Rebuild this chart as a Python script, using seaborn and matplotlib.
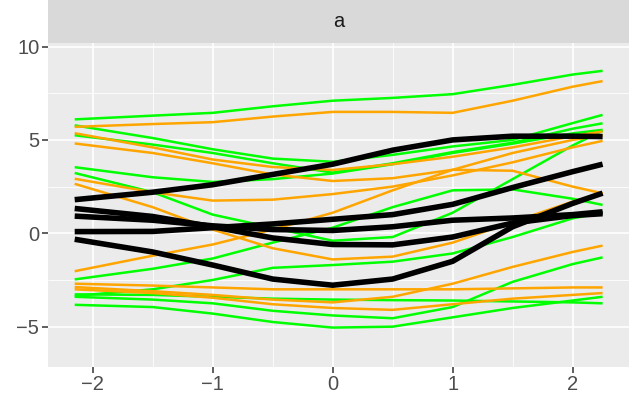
import numpy as np
import pandas as pd
import matplotlib.pyplot as plt
import seaborn as sns

x_pts = [-2.15, -1.5, -1.0, -0.5, 0.0, 0.5, 1.0, 1.5, 2.0, 2.25]

green_1 = [6.1, 6.3, 6.45, 6.8, 7.1, 7.25, 7.45, 7.95, 8.5, 8.7]
green_2 = [5.78, 5.1, 4.5, 4.0, 3.83, 4.2, 4.65, 5.0, 5.9, 6.34]
green_3 = [5.25, 4.75, 4.3, 3.75, 3.25, 3.75, 4.35, 4.85, 5.6, 5.89]
green_4 = [3.54, 3.0, 2.75, 2.9, 3.2, 3.7, 4.3, 4.8, 5.35, 5.54]
green_5 = [-2.47, -1.9, -1.35, -0.5, 0.3, 1.4, 2.3, 2.35, 1.85, 1.52]
green_6 = [3.23, 2.2, 1.0, 0.3, -0.4, -0.2, 1.1, 2.9, 4.7, 5.5]
green_7 = [-3.35, -3.0, -2.5, -1.85, -1.7, -1.52, -1.08, -0.2, 0.8, 1.1]
green_8 = [-3.4, -3.55, -3.75, -4.15, -4.4, -4.55, -3.95, -2.6, -1.65, -1.29]
green_9 = [-3.83, -3.95, -4.3, -4.75, -5.05, -5.0, -4.5, -4.0, -3.6, -3.4]
green_10 = [-3.27, -3.3, -3.4, -3.5, -3.55, -3.58, -3.6, -3.65, -3.7, -3.75]

orange_1 = [5.7, 5.85, 5.95, 6.25, 6.5, 6.5, 6.45, 7.1, 7.85, 8.15]
orange_2 = [5.36, 4.6, 3.95, 3.55, 3.39, 3.7, 4.1, 4.6, 5.2, 5.45]
orange_3 = [4.81, 4.3, 3.75, 3.15, 2.8, 2.95, 3.4, 3.35, 2.5, 2.14]
orange_4 = [2.92, 2.2, 1.75, 1.8, 2.1, 2.5, 3.1, 3.8, 4.6, 4.95]
orange_5 = [2.65, 1.4, 0.2, -0.8, -1.4, -1.25, -0.5, 0.6, 1.7, 2.14]
orange_6 = [-2.03, -1.2, -0.6, 0.2, 1.1, 2.3, 3.4, 4.3, 5.0, 5.25]
orange_7 = [-2.88, -3.1, -3.3, -3.55, -3.7, -3.4, -2.7, -1.8, -1.0, -0.66]
orange_8 = [-2.7, -2.8, -2.9, -3.0, -3.0, -3.0, -3.0, -2.95, -2.9, -2.9]
orange_9 = [-3.0, -3.2, -3.45, -3.8, -4.0, -4.1, -3.8, -3.5, -3.3, -3.2]

black_1 = [1.8, 2.2, 2.6, 3.15, 3.7, 4.45, 5.0, 5.2, 5.2, 5.18]
black_2 = [0.09, 0.1, 0.3, 0.5, 0.75, 1.0, 1.55, 2.45, 3.3, 3.7]
black_3 = [1.33, 0.9, 0.35, -0.25, -0.6, -0.62, -0.2, 0.55, 0.95, 1.05]
black_4 = [0.92, 0.7, 0.4, 0.2, 0.15, 0.35, 0.7, 0.82, 1.0, 1.15]
black_5 = [-0.32, -1.0, -1.7, -2.45, -2.78, -2.45, -1.5, 0.35, 1.6, 2.15]

greens = [green_1, green_2, green_3, green_4, green_5,
          green_6, green_7, green_8, green_9, green_10]
oranges = [orange_1, orange_2, orange_3, orange_4, orange_5,
           orange_6, orange_7, orange_8, orange_9]
blacks = [black_1, black_2, black_3, black_4, black_5]

rows = []
for grp, curves in [("green", greens), ("orange", oranges)]:
    for i, c in enumerate(curves):
        for xv, yv in zip(x_pts, c):
            rows.append({"x": xv, "y": yv, "grp": grp, "curve": f"{grp}{i}"})
df = pd.DataFrame(rows)

brows = []
for i, c in enumerate(blacks):
    for xv, yv in zip(x_pts, c):
        brows.append({"x": xv, "y": yv, "curve": f"black{i}"})
df_black = pd.DataFrame(brows)

sns.set_theme(style="white")
plt.rcParams["font.family"] = ["Liberation Sans", "DejaVu Sans"]
plt.rcParams["lines.solid_capstyle"] = "butt"
plt.rcParams["lines.solid_joinstyle"] = "round"

W, H = 629, 399
fig = plt.figure(figsize=(W / 100, H / 100), dpi=100)
left, right, top, bottom = 47.7, 629, 43, 367
ax = fig.add_axes([left / W, 1 - bottom / H, (right - left) / W, (bottom - top) / H])
strip = fig.add_axes([left / W, 1 - top / H, (right - left) / W, top / H])

ax.set_facecolor("#EBEBEB")
for s in ax.spines.values():
    s.set_visible(False)

ax.set_xlim(-2.375, 2.47)
ax.set_ylim(-7.16, 10.19)

# grid like ggplot
for v in [-1.5, -0.5, 0.5, 1.5]:
    ax.axvline(v, color="white", lw=0.6, zorder=0)
for v in [-2.5, 2.5, 7.5]:
    ax.axhline(v, color="white", lw=0.6, zorder=0)
for v in [-2, -1, 0, 1, 2]:
    ax.axvline(v, color="white", lw=1.2, zorder=0)
for v in [-5, 0, 5, 10]:
    ax.axhline(v, color="white", lw=1.2, zorder=0)

sns.lineplot(data=df, x="x", y="y", hue="grp", units="curve", estimator=None,
             palette={"green": "#00FF00", "orange": "#FFA500"}, lw=1.8,
             legend=False, sort=False, ax=ax)
sns.lineplot(data=df_black, x="x", y="y", units="curve", estimator=None,
             color="black", lw=4, legend=False, sort=False, ax=ax)

ax.set_xticks([-2, -1, 0, 1, 2])
ax.set_yticks([-5, 0, 5, 10])
ax.set_xlabel("")
ax.set_ylabel("")
ax.tick_params(axis="both", length=4, width=1.1, color="#333333",
               labelcolor="#4D4D4D", labelsize=14.5, pad=2, direction="out",
               bottom=True, left=True)

strip.set_facecolor("#D9D9D9")
strip.set_xticks([])
strip.set_yticks([])
for s in strip.spines.values():
    s.set_visible(False)
strip.text(0.5, 0.5, "a", ha="center", va="center", fontsize=14.5,
           color="#1A1A1A", transform=strip.transAxes)

fig.savefig("out.png", dpi=100)
